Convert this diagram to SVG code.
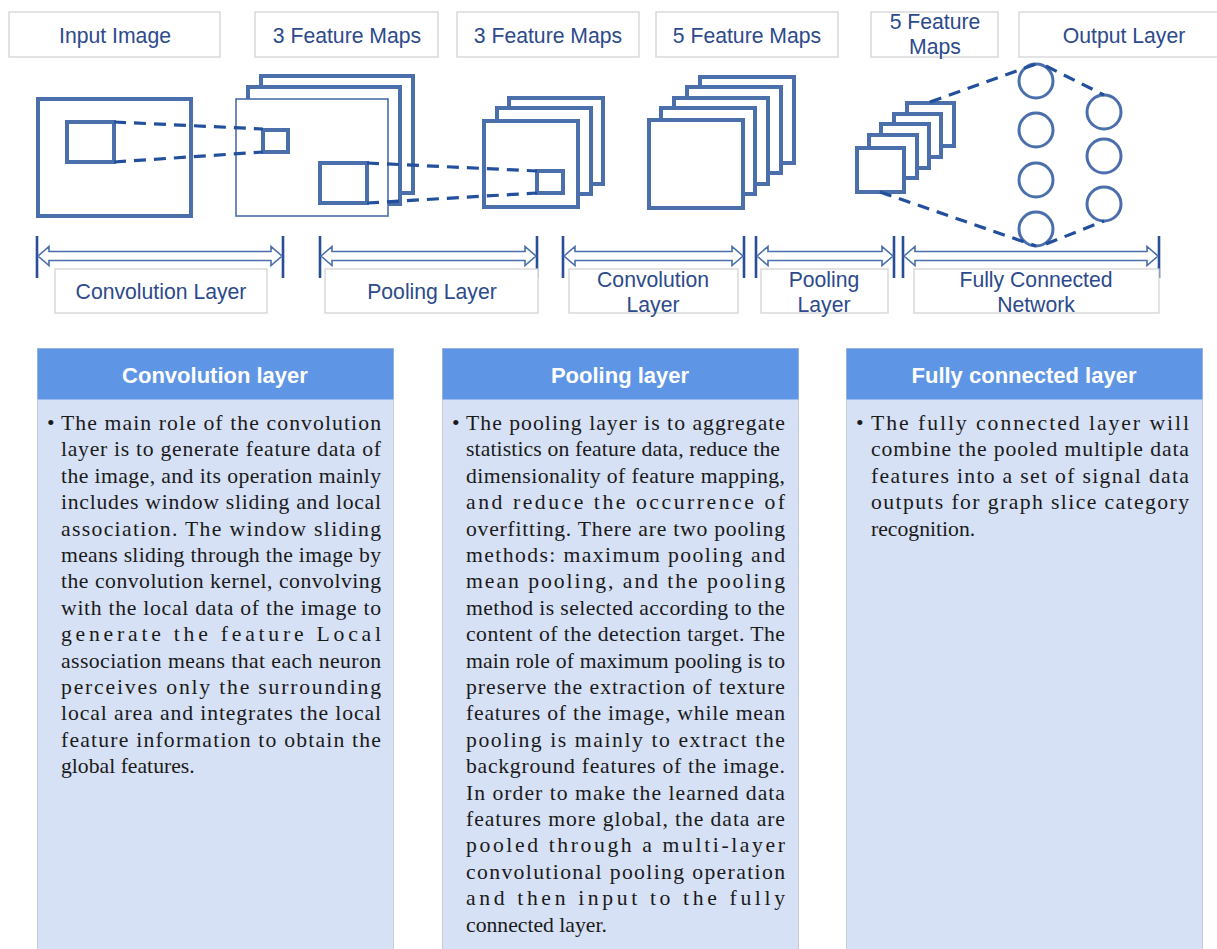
<svg xmlns="http://www.w3.org/2000/svg" width="1217" height="949" viewBox="0 0 1217 949">
<style>
.lbl{fill:#fff;stroke:#d0d0d0;stroke-width:1.2}
.lt{font-family:"Liberation Sans",Arial,sans-serif;font-size:21.2px;fill:#2c4a8c;text-anchor:middle}
.map{fill:#fff;stroke:#4a6fab;stroke-width:4}
.thin{fill:#fff;stroke:#4a6fab;stroke-width:1.6}
.dash{fill:none;stroke:#22509c;stroke-width:3.2;stroke-dasharray:12,8}
.bar{stroke:#284e98;stroke-width:2.6}
.arr{fill:#fff;stroke:#4a6fab;stroke-width:1.6}
.neu{fill:#fff;stroke:#4a6fab;stroke-width:3}
.hd{fill:#5e95e4}
.bd{fill:#d6e1f6;stroke:#c8cdd6;stroke-width:1}
.ht{font-family:"Liberation Sans",Arial,sans-serif;font-weight:bold;font-size:22px;fill:#fff;text-anchor:middle}
.bt{font-family:"Liberation Serif","Times New Roman",serif;font-size:21.7px;fill:#1a1a1a}
</style>
<rect width="1217" height="949" fill="#fff"/>

<g id="top-labels">
<rect class="lbl" x="9" y="12" width="211" height="45"/><text class="lt" x="115" y="43">Input Image</text>
<rect class="lbl" x="255" y="12" width="183" height="45"/><text class="lt" x="347" y="43">3 Feature Maps</text>
<rect class="lbl" x="457" y="12" width="182" height="45"/><text class="lt" x="548" y="43">3 Feature Maps</text>
<rect class="lbl" x="656" y="12" width="182" height="45"/><text class="lt" x="747" y="43">5 Feature Maps</text>
<rect class="lbl" x="871" y="12" width="127" height="45"/><text class="lt" x="935" y="29">5 Feature</text><text class="lt" x="935" y="54">Maps</text>
<rect class="lbl" x="1019" y="12" width="210" height="45"/><text class="lt" x="1124" y="43">Output Layer</text>
</g>

<g id="input-image">
<rect class="map" x="38" y="99" width="153" height="117"/>
<rect class="map" x="67" y="122" width="47" height="40"/>
</g>

<g id="maps-1">
<rect class="map" x="261" y="76" width="152" height="117"/>
<rect class="map" x="248" y="87" width="152" height="117"/>
<rect class="thin" x="236" y="99" width="152" height="117"/>
<rect class="map" x="263" y="130" width="25" height="22"/>
<rect class="map" x="320" y="163" width="47" height="40"/>
</g>

<g id="maps-2">
<rect class="map" x="509" y="98" width="94" height="86"/>
<rect class="map" x="497" y="108" width="94" height="86"/>
<rect class="map" x="484" y="121" width="94" height="86"/>
<rect class="map" x="537" y="171" width="26" height="22"/>
</g>

<g id="maps-3">
<rect class="map" x="700" y="77" width="94" height="86"/>
<rect class="map" x="687" y="87" width="94" height="86"/>
<rect class="map" x="674" y="98" width="94" height="86"/>
<rect class="map" x="661" y="108" width="94" height="86"/>
<rect class="map" x="649" y="120" width="94" height="88"/>
</g>

<g id="maps-4">
<rect class="map" x="907" y="103" width="47" height="43"/>
<rect class="map" x="894" y="114" width="47" height="43"/>
<rect class="map" x="881" y="124" width="48" height="44"/>
<rect class="map" x="869" y="135" width="48" height="43"/>
<rect class="map" x="857" y="148" width="47" height="44"/>
</g>

<g id="output-neurons">
<circle class="neu" cx="1036" cy="81" r="17"/>
<circle class="neu" cx="1036" cy="130" r="17"/>
<circle class="neu" cx="1036" cy="180" r="17"/>
<circle class="neu" cx="1036" cy="229" r="17"/>
<circle class="neu" cx="1104" cy="112" r="17"/>
<circle class="neu" cx="1104" cy="156" r="17"/>
<circle class="neu" cx="1104" cy="204" r="17"/>
</g>

<g id="connectors">
<path class="dash" d="M114,122 L263,129 M114,162 L263,152"/>
<path class="dash" d="M367,163 L537,171 M367,203 L537,193"/>
<path class="dash" d="M930,102 L1036,64 M880,192 L1036,246"/>
<path class="dash" d="M1046,66 L1104,95 M1046,244 L1104,221"/>
<g id="spans">
<line class="bar" x1="37" y1="236" x2="37" y2="278"/><line class="bar" x1="283" y1="236" x2="283" y2="278"/>
<path class="arr" d="M38,256 L49,246.5 L49,251.5 L271,251.5 L271,246.5 L282,256 L271,265.5 L271,260.5 L49,260.5 L49,265.5 Z"/>
<line class="bar" x1="320" y1="236" x2="320" y2="278"/><line class="bar" x1="537" y1="236" x2="537" y2="278"/>
<path class="arr" d="M321,256 L332,246.5 L332,251.5 L525,251.5 L525,246.5 L536,256 L525,265.5 L525,260.5 L332,260.5 L332,265.5 Z"/>
<line class="bar" x1="563" y1="236" x2="563" y2="278"/><line class="bar" x1="744" y1="236" x2="744" y2="278"/>
<path class="arr" d="M564,256 L575,246.5 L575,251.5 L732,251.5 L732,246.5 L743,256 L732,265.5 L732,260.5 L575,260.5 L575,265.5 Z"/>
<line class="bar" x1="756" y1="236" x2="756" y2="278"/><line class="bar" x1="894" y1="236" x2="894" y2="278"/>
<path class="arr" d="M757,256 L768,246.5 L768,251.5 L882,251.5 L882,246.5 L893,256 L882,265.5 L882,260.5 L768,260.5 L768,265.5 Z"/>
<line class="bar" x1="903" y1="236" x2="903" y2="278"/><line class="bar" x1="1159" y1="236" x2="1159" y2="278"/>
<path class="arr" d="M904,256 L915,246.5 L915,251.5 L1147,251.5 L1147,246.5 L1158,256 L1147,265.5 L1147,260.5 L915,260.5 L915,265.5 Z"/>
</g>
</g>

<g id="bottom-labels">
<rect class="lbl" x="55" y="269" width="212" height="44"/><text class="lt" x="161" y="299">Convolution Layer</text>
<rect class="lbl" x="325" y="269" width="213" height="44"/><text class="lt" x="432" y="299">Pooling Layer</text>
<rect class="lbl" x="569" y="269" width="169" height="44"/><text class="lt" x="653" y="287">Convolution</text><text class="lt" x="653" y="312">Layer</text>
<rect class="lbl" x="761" y="269" width="127" height="44"/><text class="lt" x="824" y="287">Pooling</text><text class="lt" x="824" y="312">Layer</text>
<rect class="lbl" x="914" y="269" width="245" height="44"/><text class="lt" x="1036" y="287">Fully Connected</text><text class="lt" x="1036" y="312">Network</text>
</g>

<g id="panel-conv">
<rect class="bd" x="37.5" y="348.5" width="356" height="610"/>
<rect class="hd" x="37.5" y="348.5" width="356" height="51"/>
<text class="ht" x="215" y="383">Convolution layer</text>
<text class="bt" x="47" y="430">•</text>
<text class="bt" x="61" y="430" textLength="320" lengthAdjust="spacing">The main role of the convolution</text>
<text class="bt" x="61" y="456.4" textLength="320" lengthAdjust="spacing">layer is to generate feature data of</text>
<text class="bt" x="61" y="482.8" textLength="320" lengthAdjust="spacing">the image, and its operation mainly</text>
<text class="bt" x="61" y="509.2" textLength="320" lengthAdjust="spacing">includes window sliding and local</text>
<text class="bt" x="61" y="535.6" textLength="320" lengthAdjust="spacing">association. The window sliding</text>
<text class="bt" x="61" y="562" textLength="320" lengthAdjust="spacing">means sliding through the image by</text>
<text class="bt" x="61" y="588.4" textLength="320" lengthAdjust="spacing">the convolution kernel, convolving</text>
<text class="bt" x="61" y="614.8" textLength="320" lengthAdjust="spacing">with the local data of the image to</text>
<text class="bt" x="61" y="641.2" textLength="320" lengthAdjust="spacing">generate the feature Local</text>
<text class="bt" x="61" y="667.6" textLength="320" lengthAdjust="spacing">association means that each neuron</text>
<text class="bt" x="61" y="694" textLength="320" lengthAdjust="spacing">perceives only the surrounding</text>
<text class="bt" x="61" y="720.4" textLength="320" lengthAdjust="spacing">local area and integrates the local</text>
<text class="bt" x="61" y="746.8" textLength="320" lengthAdjust="spacing">feature information to obtain the</text>
<text class="bt" x="61" y="773.2">global features.</text>
</g>

<g id="panel-pool">
<rect class="bd" x="442.5" y="348.5" width="356" height="610"/>
<rect class="hd" x="442.5" y="348.5" width="356" height="51"/>
<text class="ht" x="620" y="383">Pooling layer</text>
<text class="bt" x="452" y="430">•</text>
<text class="bt" x="466" y="430" textLength="319" lengthAdjust="spacing">The pooling layer is to aggregate</text>
<text class="bt" x="466" y="456.4" textLength="314" lengthAdjust="spacing">statistics on feature data, reduce the</text>
<text class="bt" x="466" y="482.8" textLength="319" lengthAdjust="spacing">dimensionality of feature mapping,</text>
<text class="bt" x="466" y="509.2" textLength="319" lengthAdjust="spacing">and reduce the occurrence of</text>
<text class="bt" x="466" y="535.6" textLength="319" lengthAdjust="spacing">overfitting. There are two pooling</text>
<text class="bt" x="466" y="562" textLength="319" lengthAdjust="spacing">methods: maximum pooling and</text>
<text class="bt" x="466" y="588.4" textLength="319" lengthAdjust="spacing">mean pooling, and the pooling</text>
<text class="bt" x="466" y="614.8" textLength="319" lengthAdjust="spacing">method is selected according to the</text>
<text class="bt" x="466" y="641.2" textLength="319" lengthAdjust="spacing">content of the detection target. The</text>
<text class="bt" x="466" y="667.6" textLength="319" lengthAdjust="spacing">main role of maximum pooling is to</text>
<text class="bt" x="466" y="694" textLength="319" lengthAdjust="spacing">preserve the extraction of texture</text>
<text class="bt" x="466" y="720.4" textLength="319" lengthAdjust="spacing">features of the image, while mean</text>
<text class="bt" x="466" y="746.8" textLength="319" lengthAdjust="spacing">pooling is mainly to extract the</text>
<text class="bt" x="466" y="773.2" textLength="319" lengthAdjust="spacing">background features of the image.</text>
<text class="bt" x="466" y="799.6" textLength="319" lengthAdjust="spacing">In order to make the learned data</text>
<text class="bt" x="466" y="826" textLength="319" lengthAdjust="spacing">features more global, the data are</text>
<text class="bt" x="466" y="852.4" textLength="319" lengthAdjust="spacing">pooled through a multi-layer</text>
<text class="bt" x="466" y="878.8" textLength="319" lengthAdjust="spacing">convolutional pooling operation</text>
<text class="bt" x="466" y="905.2" textLength="319" lengthAdjust="spacing">and then input to the fully</text>
<text class="bt" x="466" y="931.6">connected layer.</text>
</g>

<g id="panel-fc">
<rect class="bd" x="846.5" y="348.5" width="356" height="610"/>
<rect class="hd" x="846.5" y="348.5" width="356" height="51"/>
<text class="ht" x="1024" y="383">Fully connected layer</text>
<text class="bt" x="856" y="430">•</text>
<text class="bt" x="871" y="430" textLength="318" lengthAdjust="spacing">The fully connected layer will</text>
<text class="bt" x="871" y="456.4" textLength="318" lengthAdjust="spacing">combine the pooled multiple data</text>
<text class="bt" x="871" y="482.8" textLength="318" lengthAdjust="spacing">features into a set of signal data</text>
<text class="bt" x="871" y="509.2" textLength="318" lengthAdjust="spacing">outputs for graph slice category</text>
<text class="bt" x="871" y="535.6">recognition.</text>
</g>
</svg>
